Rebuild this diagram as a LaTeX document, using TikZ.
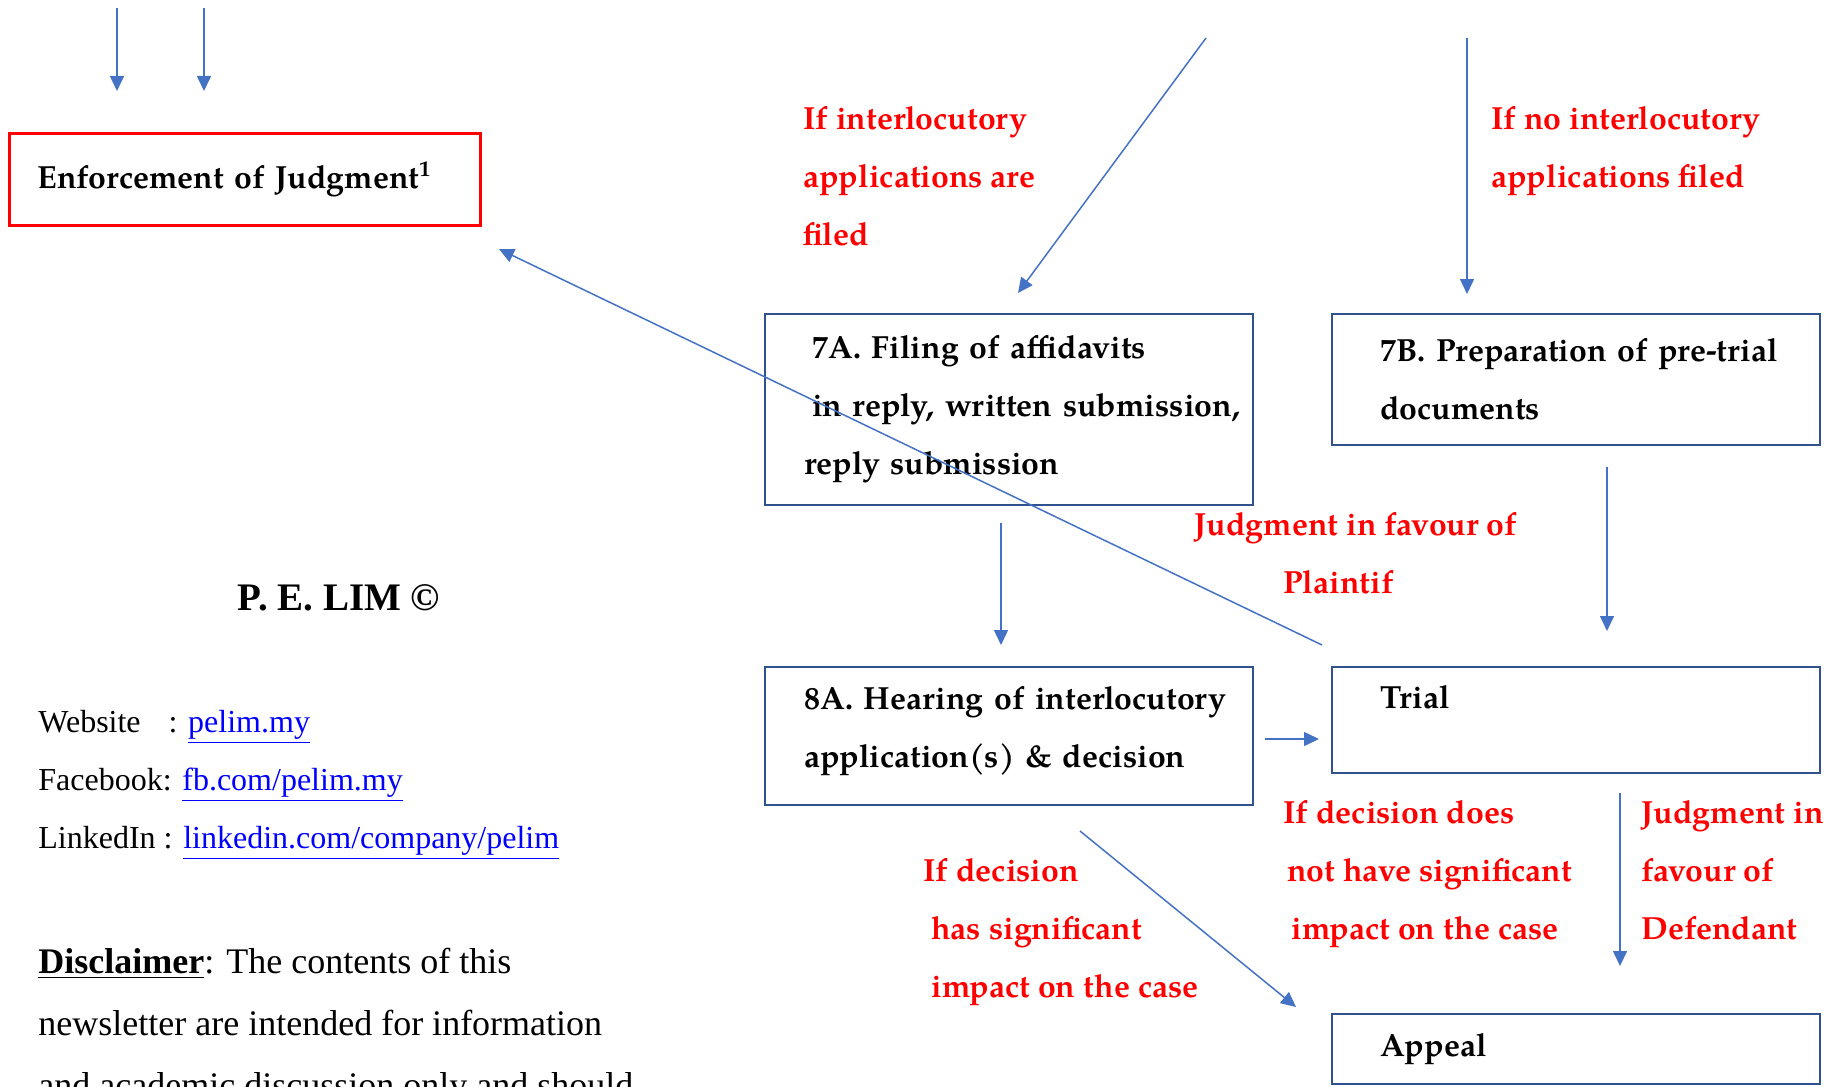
\documentclass[tikz,border=0pt]{standalone}
\usepackage{fontspec}
\setmainfont{TeX Gyre Pagella}
\newfontfamily\leftfont{Liberation Serif}
\usetikzlibrary{arrows.meta, positioning, calc}

\definecolor{arrowblue}{HTML}{4472C4}
\definecolor{boxblue}{HTML}{2F528F}
\definecolor{linkblue}{HTML}{0000FF}

\begin{document}
\begin{tikzpicture}[
    x = 0.5pt, y = -0.5pt,
    font = \fontsize{16}{29}\selectfont\bfseries,
    stepbox/.style = {draw=boxblue, line width=1pt, rectangle, anchor=north west, align=left, minimum width=244pt, inner ysep=0pt},
    redbox/.style = {draw=red, line width=1.5pt, rectangle, anchor=north west, align=left, inner ysep=0pt},
    cond/.style = {text=red, anchor=north west, align=left, inner sep=0pt},
    info/.style = {font=\leftfont\fontsize{16}{29}\selectfont, anchor=north west, align=left, inner sep=0pt},
    line/.style = {-{Triangle[width=7pt, length=7.5pt]}, arrowblue, line width=0.75pt}
]
    \clip (0,0) rectangle (1829,1086);

    % Boxes
    \node [redbox, minimum height=46pt, text width=207.5pt, inner xsep=14pt] (enf) at (8,132) {Enforcement of Judgment\textsuperscript{\fontsize{11}{11}\selectfont 1}};
    \node [stepbox, minimum height=95.5pt, text width=205pt, inner xsep=19.5pt] (a7) at (764,313)
        {\hspace*{4pt}7A. Filing of affidavits\\ \mbox{\hspace*{4pt}in reply, written submission,}\\ reply submission};
    \node [stepbox, minimum height=65.5pt, text width=196pt, inner xsep=24pt] (b7) at (1331,313)
        {\mbox{7B. Preparation of pre-trial}\\ documents};
    \node [stepbox, minimum height=69pt, text width=205pt, inner xsep=19.5pt, text depth=38pt] (h8) at (764,666)
        {\mbox{8A. Hearing of interlocutory}\\ application(s) \& decision};
    \node [stepbox, minimum height=53pt, text width=196pt, inner xsep=24pt, text height=20.5pt, text depth=32.5pt] (trial) at (1331,666) {Trial};
    \node [stepbox, minimum height=35pt, text width=196pt, inner xsep=24pt] (appeal) at (1331,1013) {Appeal};

    % Conditions
    \node [cond] (ifint) at (803,106) {If interlocutory\\ applications are\\ filed};
    \node [cond] (ifno) at (1491,106) {If no interlocutory\\ applications filed};
    \node [cond] (jpl) at (1194,512) {Judgment in favour of\\ \hspace*{44.5pt}Plaintif};
    \node [cond] (ifnot) at (1283,800) {If decision does\\ \hspace*{2pt}not have significant\\ \hspace*{4pt}impact on the case};
    \node [cond] (jdef) at (1641,800) {Judgment in\\ favour of\\ Defendant};
    \node [cond] (ifhas) at (923,858) {If decision\\ \hspace*{4pt}has significant\\ \hspace*{4pt}impact on the case};

    % Left column
    \node [font=\leftfont\bfseries\fontsize{19.5}{29}\selectfont, anchor=base, inner sep=0pt] (lim) at (339,610) {P. E. LIM ©};
    \node [info] (links) at (38,710) {Website\hspace*{10pt} : \textcolor{linkblue}{\underline{pelim.my}}\\
        Facebook: \textcolor{linkblue}{\underline{fb.com/pelim.my}}\\
        LinkedIn : \textcolor{linkblue}{\underline{linkedin.com/company/pelim}}};
    \node [info, font=\leftfont\fontsize{18}{31}\selectfont] (disc) at (38,948) {\underline{\textbf{Disclaimer}}: The contents of this\\
        newsletter are intended for information\\
        and academic discussion only and should};

    % Free ends
    \coordinate (top1) at (117,8);
    \coordinate (top2) at (204,8);
    \coordinate (from7a) at (1206,38);
    \coordinate (from7b) at (1467,38);

    % Edges
    \draw [line] (top1) -- ++(0,83);
    \draw [line] (top2) -- ++(0,83);
    \draw [line] (from7a) -- ($(a7.north)+(9,-20)$);
    \draw [line] (from7b) -- ($(b7.north west)+(136,-19)$);
    \draw [line] ($(trial.north west)+(-9,-21)$) -- ($(enf.south east)+(17,22)$);
    \draw [line] ($(a7.south)+(-8,17)$) -- ($(h8.north)+(-8,-21)$);
    \draw [line] ($(b7.south)+(31,21)$) -- ($(trial.north)+(31,-35)$);
    \draw [line] ($(h8.east)+(11,3)$) -- ($(trial.west)+(-12,19)$);
    \draw [line] ($(trial.south)+(44,19)$) -- ($(appeal.north)+(44,-47)$);
    \draw [line] ($(h8.south)+(71,25)$) -- ($(appeal.north west)+(-35,-6)$);
\end{tikzpicture}
\end{document}
